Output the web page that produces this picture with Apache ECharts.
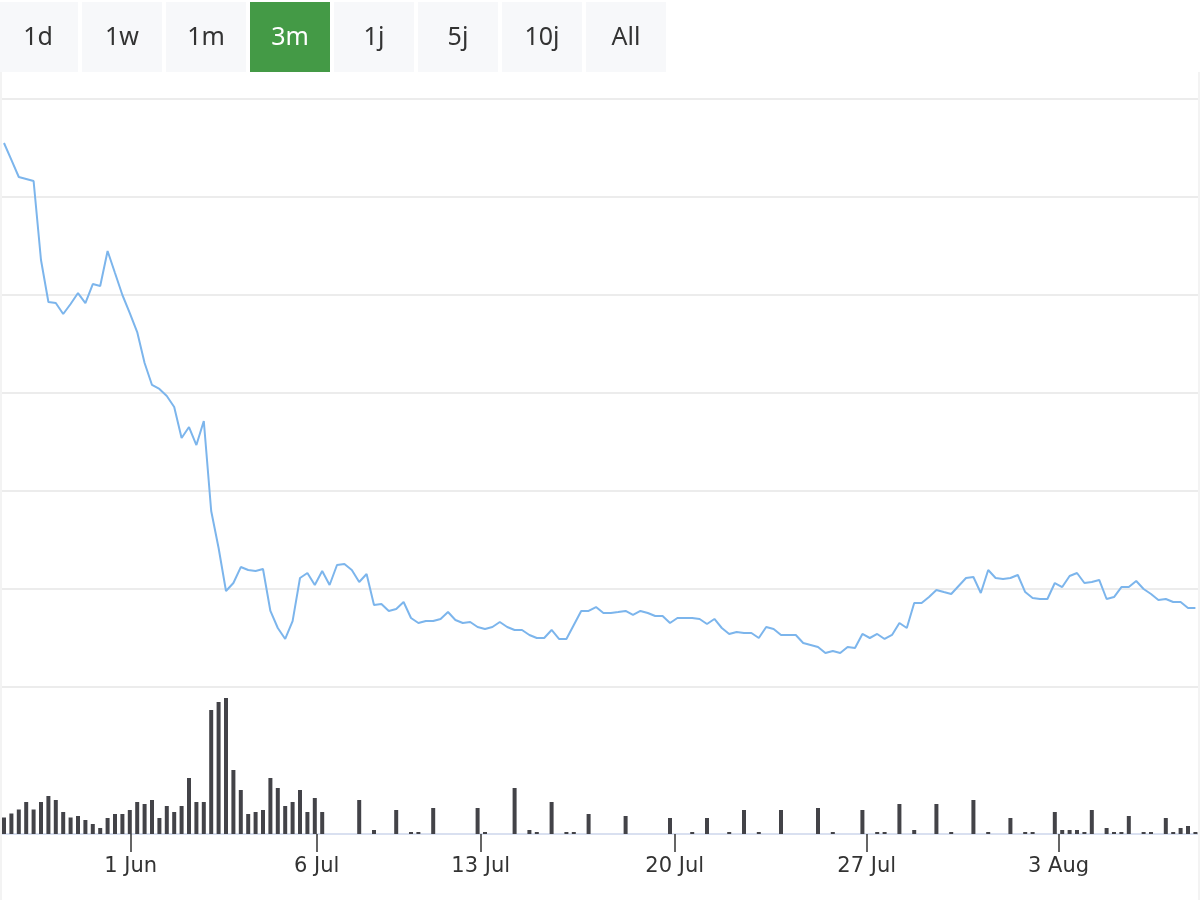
<!DOCTYPE html>
<html>
<head>
<meta charset="utf-8">
<title>3m</title>
<script src="https://cdn.jsdelivr.net/npm/echarts@6/dist/echarts.min.js"></script>
<style>
    html, body { margin: 0; padding: 0; background: #fff; }
    #wrap { position: relative; width: 1200px; height: 900px; overflow: hidden; }
    #chart { position: absolute; left: 0; top: 0; width: 1200px; height: 900px; }
    .range-btns { position: absolute; left: 0; top: 0; width: 1200px; height: 72px; z-index: 2; }
    .range-btns a {
        position: absolute; top: 2px; width: 80px; height: 70px; line-height: 66px;
        text-align: center; background: #f7f8fa; color: #333;
        font-family: "Noto Sans", sans-serif; font-size: 25px; text-decoration: none;
    }
    .range-btns a.active { background: #449a46; color: #fff; }
    .frame { position: absolute; top: 72px; bottom: 0; width: 2px; background: #f3f3f3; z-index: 1; }
</style>
</head>
<body>
<div id="wrap">
    <div class="range-btns"></div>
    <div class="frame" style="left:0"></div>
    <div class="frame" style="right:0"></div>
    <div id="chart"></div>
</div>
<script>
// range buttons
var ranges = ['1d', '1w', '1m', '3m', '1j', '5j', '10j', 'All'];
var activeRange = '3m';

// x-axis ticks (positions in point index units) and their labels
var tickPos = [17.12, 42.26, 64.42, 90.64, 116.58, 142.5];
var tickLabels = ['1 Jun', '6 Jul', '13 Jul', '20 Jul', '27 Jul', '3 Aug'];

// price line
var price = [
    55.51, 53.78, 52.04, 51.84, 51.63, 43.57, 39.29, 39.18, 38.06, 39.08,
    40.20, 39.18, 41.12, 40.92, 44.49, 42.24, 40.00, 38.16, 36.22, 33.06,
    30.82, 30.41, 29.69, 28.57, 25.41, 26.53, 24.69, 27.14, 17.96, 14.18,
    9.80, 10.61, 12.24, 11.94, 11.84, 12.04, 7.76, 6.02, 4.90, 6.73,
    11.12, 11.63, 10.41, 11.84, 10.41, 12.45, 12.55, 11.94, 10.71, 11.53,
    8.37, 8.47, 7.76, 7.96, 8.67, 7.04, 6.53, 6.73, 6.73, 6.94,
    7.65, 6.84, 6.53, 6.63, 6.12, 5.92, 6.12, 6.63, 6.12, 5.82,
    5.82, 5.31, 5.00, 5.00, 5.82, 4.90, 4.90, 6.33, 7.76, 7.76,
    8.16, 7.55, 7.55, 7.65, 7.76, 7.35, 7.76, 7.55, 7.24, 7.24,
    6.53, 7.04, 7.04, 7.04, 6.94, 6.43, 6.94, 6.02, 5.41, 5.61,
    5.51, 5.51, 5.00, 6.12, 5.92, 5.31, 5.31, 5.31, 4.49, 4.29,
    4.08, 3.47, 3.67, 3.47, 4.08, 3.98, 5.41, 5.00, 5.41, 4.90,
    5.31, 6.53, 6.02, 8.57, 8.57, 9.18, 9.90, 9.69, 9.49, 10.31,
    11.12, 11.22, 9.59, 11.94, 11.12, 11.02, 11.12, 11.43, 9.69, 9.08,
    8.98, 8.98, 10.61, 10.20, 11.33, 11.63, 10.61, 10.71, 10.92, 8.98,
    9.18, 10.20, 10.20, 10.82, 10.00, 9.49, 8.88, 8.98, 8.67, 8.67,
    8.06, 8.06
];

// volume bars
var volume = [
    16.5, 20.5, 24.5, 32, 24.5, 32, 38, 34, 22, 16.5,
    18, 14, 10, 6, 16, 20, 20, 24, 32, 30,
    34, 16, 28, 22, 28, 56, 32, 32, 124, 132,
    136, 64, 44, 20, 22, 24, 56, 46, 28, 32,
    44, 22, 36, 22, 0, 0, 0, 0, 34, 0,
    4, 0, 0, 24, 0, 2, 2, 0, 26, 0,
    0, 0, 0, 0, 26, 2, 0, 0, 0, 46,
    0, 4, 2, 0, 32, 0, 2, 2, 0, 20,
    0, 0, 0, 0, 18, 0, 0, 0, 0, 0,
    16, 0, 0, 2, 0, 16, 0, 0, 2, 0,
    24, 0, 2, 0, 0, 24, 0, 0, 0, 0,
    26, 0, 2, 0, 0, 0, 24, 0, 2, 2,
    0, 30, 0, 4, 0, 0, 30, 0, 2, 0,
    0, 34, 0, 2, 0, 0, 16, 0, 2, 2,
    0, 0, 22, 4, 4, 4, 2, 24, 0, 6,
    2, 2, 18, 0, 2, 2, 0, 16, 2, 6,
    8, 2
];

var btnBox = document.querySelector('.range-btns');
ranges.forEach(function (r, k) {
    var a = document.createElement('a');
    a.href = '#';
    a.textContent = r;
    a.style.left = (-2 + 84 * k) + 'px';
    if (r === activeRange) a.className = 'active';
    btnBox.appendChild(a);
});

var chart = echarts.init(document.getElementById('chart'), null, {renderer: 'canvas'});

var xMin = -0.54, xMax = 161.62;

var option = {
    animation: false,
    grid: [
        {left: 0, right: 0, top: 99, height: 588},
        {left: 0, right: 0, top: 684, height: 150}
    ],
    xAxis: [
        {
            type: 'value', gridIndex: 0, min: xMin, max: xMax,
            show: false
        },
        {
            type: 'value', gridIndex: 1, min: xMin, max: xMax,
            axisLine: {lineStyle: {color: '#ccd6eb', width: 1.5}},
            axisTick: {
                show: true, length: 18, customValues: tickPos,
                lineStyle: {color: '#333', width: 1.5}
            },
            axisLabel: {
                customValues: tickPos,
                margin: 22,
                color: '#333',
                fontFamily: 'DejaVu Sans',
                fontSize: 21,
                formatter: function (val) {
                    for (var k = 0; k < tickPos.length; k++) {
                        if (Math.abs(tickPos[k] - val) < 1e-6) return tickLabels[k];
                    }
                    return '';
                }
            },
            splitLine: {show: false}
        }
    ],
    yAxis: [
        {
            type: 'value', gridIndex: 0, min: 0, max: 60, interval: 10,
            axisLabel: {show: false},
            axisLine: {show: false},
            axisTick: {show: false},
            splitLine: {lineStyle: {color: '#e6e6e6', width: 1.5}}
        },
        {
            type: 'value', gridIndex: 1, min: 0, max: 150,
            show: false,
            splitLine: {show: false}
        }
    ],
    series: [
        {
            name: 'Price',
            type: 'line',
            xAxisIndex: 0,
            yAxisIndex: 0,
            showSymbol: false,
            lineStyle: {color: '#7cb5ec', width: 2},
            data: price.map(function (v, i) { return [i, v]; })
        },
        {
            name: 'Volume',
            type: 'bar',
            xAxisIndex: 1,
            yAxisIndex: 1,
            barWidth: 4,
            clip: false,
            itemStyle: {color: '#434348'},
            data: volume.map(function (v, i) { return [i, v]; })
        }
    ]
};
chart.setOption(option);

window.addEventListener('resize', function () {
    chart.resize();
});
</script>
</body>
</html>
